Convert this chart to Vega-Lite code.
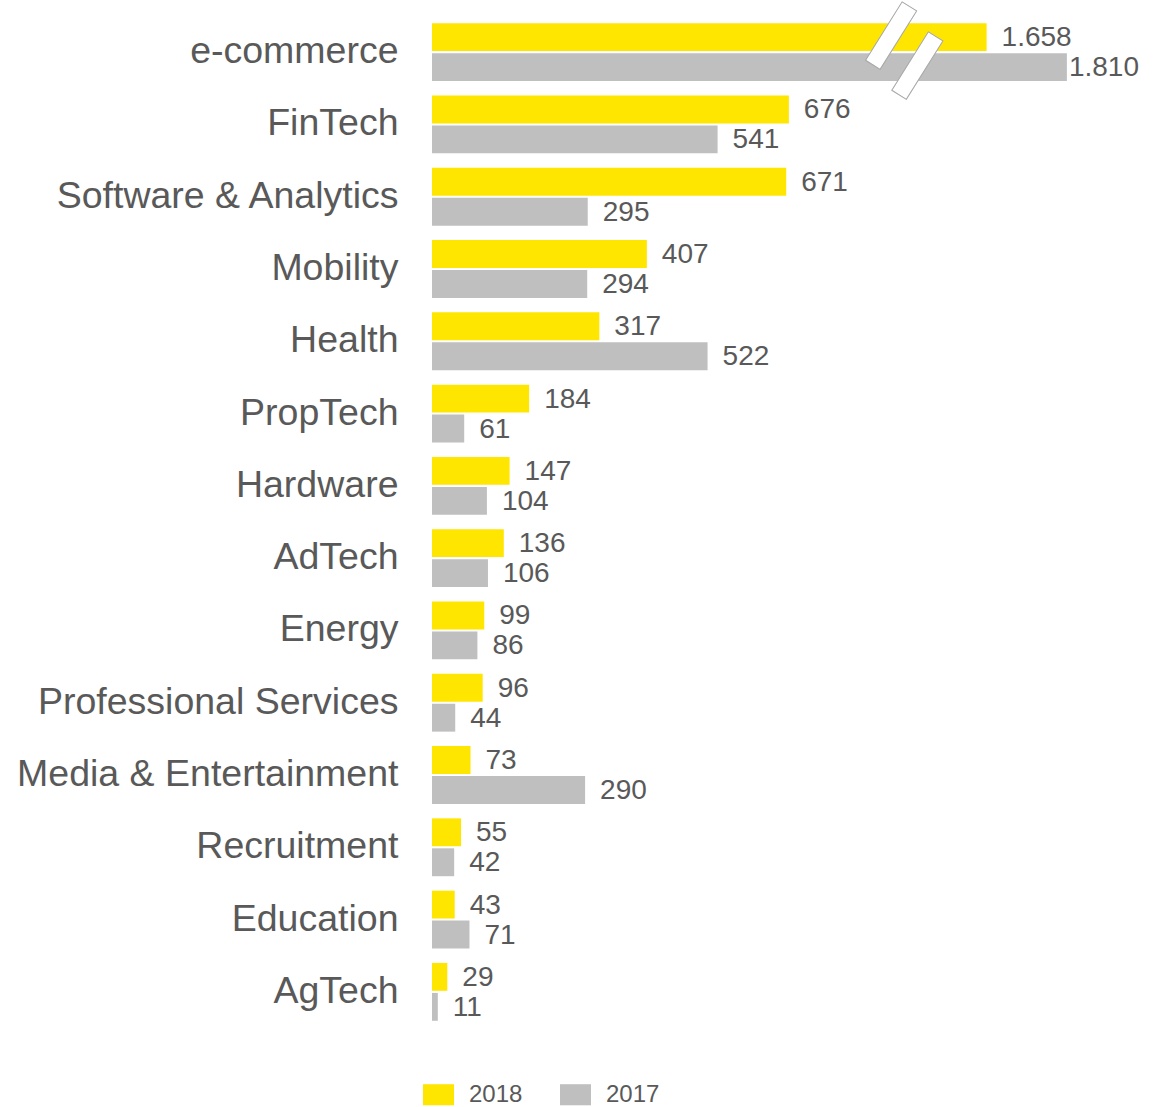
{
  "$schema": "https://vega.github.io/schema/vega-lite/v6.json",
  "width": 682,
  "height": 1012,
  "autosize": {"type": "none"},
  "padding": {"left": 432, "top": 16, "right": 46, "bottom": 79},
  "config": {"view": {"stroke": null}, "font": "Liberation Sans"},
  "datasets": {
    "bars": [
      {"category": "e-commerce", "year": "2018", "value": 1658, "label": "1.658"},
      {"category": "e-commerce", "year": "2017", "value": 1810, "label": "1.810"},
      {"category": "FinTech", "year": "2018", "value": 676, "label": "676"},
      {"category": "FinTech", "year": "2017", "value": 541, "label": "541"},
      {"category": "Software & Analytics", "year": "2018", "value": 671, "label": "671"},
      {"category": "Software & Analytics", "year": "2017", "value": 295, "label": "295"},
      {"category": "Mobility", "year": "2018", "value": 407, "label": "407"},
      {"category": "Mobility", "year": "2017", "value": 294, "label": "294"},
      {"category": "Health", "year": "2018", "value": 317, "label": "317"},
      {"category": "Health", "year": "2017", "value": 522, "label": "522"},
      {"category": "PropTech", "year": "2018", "value": 184, "label": "184"},
      {"category": "PropTech", "year": "2017", "value": 61, "label": "61"},
      {"category": "Hardware", "year": "2018", "value": 147, "label": "147"},
      {"category": "Hardware", "year": "2017", "value": 104, "label": "104"},
      {"category": "AdTech", "year": "2018", "value": 136, "label": "136"},
      {"category": "AdTech", "year": "2017", "value": 106, "label": "106"},
      {"category": "Energy", "year": "2018", "value": 99, "label": "99"},
      {"category": "Energy", "year": "2017", "value": 86, "label": "86"},
      {"category": "Professional Services", "year": "2018", "value": 96, "label": "96"},
      {"category": "Professional Services", "year": "2017", "value": 44, "label": "44"},
      {"category": "Media & Entertainment", "year": "2018", "value": 73, "label": "73"},
      {"category": "Media & Entertainment", "year": "2017", "value": 290, "label": "290"},
      {"category": "Recruitment", "year": "2018", "value": 55, "label": "55"},
      {"category": "Recruitment", "year": "2017", "value": 42, "label": "42"},
      {"category": "Education", "year": "2018", "value": 43, "label": "43"},
      {"category": "Education", "year": "2017", "value": 71, "label": "71"},
      {"category": "AgTech", "year": "2018", "value": 29, "label": "29"},
      {"category": "AgTech", "year": "2017", "value": 11, "label": "11"}
    ],
    "breaks": [
      {"category": "e-commerce", "year": "2018", "value": 850},
      {"category": "e-commerce", "year": "2017", "value": 1082}
    ]
  },
  "encoding": {
    "y": {
      "field": "category",
      "type": "nominal",
      "sort": null,
      "scale": {"paddingInner": 0.2, "paddingOuter": 0.1},
      "axis": {
        "title": null,
        "domain": false,
        "ticks": false,
        "grid": false,
        "labelFontSize": 37.5,
        "labelColor": "#595959",
        "labelPadding": 34,
        "labelLimit": 500,
        "labelFont": "Liberation Sans"
      }
    },
    "yOffset": {
      "field": "year",
      "type": "nominal",
      "sort": ["2018", "2017"],
      "scale": {"paddingInner": 0.07}
    }
  },
  "layer": [
    {
      "data": {"name": "bars"},
      "mark": {"type": "bar"},
      "encoding": {
        "x": {
          "field": "value",
          "type": "quantitative",
          "axis": null,
          "scale": {"domain": [0, 860, 1600, 1900], "range": [0, 454, 524, 682.4], "nice": false, "zero": false}
        },
        "color": {
          "field": "year",
          "type": "nominal",
          "scale": {"domain": ["2018", "2017"], "range": ["#FFE600", "#BFBFBF"]},
          "legend": {
            "title": null,
            "orient": "none",
            "direction": "horizontal",
            "legendX": -9,
            "legendY": 1063,
            "symbolType": "M-1,-0.68H1V0.68H-1Z",
            "symbolSize": 961,
            "symbolStrokeWidth": 0,
            "labelFontSize": 24,
            "labelColor": "#595959",
            "labelFont": "Liberation Sans",
            "labelOffset": 15,
            "columnPadding": 37,
            "padding": 0
          }
        }
      }
    },
    {
      "data": {"name": "bars"},
      "transform": [{"filter": "datum.category !== 'e-commerce' || datum.year !== '2017'"}],
      "mark": {"type": "text", "align": "left", "baseline": "middle", "dx": 15, "dy": 1, "fontSize": 28, "color": "#595959", "font": "Liberation Sans"},
      "encoding": {
        "x": {
          "field": "value",
          "type": "quantitative",
          "scale": {"domain": [0, 860, 1600, 1900], "range": [0, 454, 524, 682.4], "nice": false, "zero": false}
        },
        "text": {"field": "label", "type": "nominal"}
      }
    },
    {
      "data": {"name": "bars"},
      "transform": [{"filter": "datum.category === 'e-commerce' && datum.year === '2017'"}],
      "mark": {"type": "text", "align": "left", "baseline": "middle", "dx": 2, "dy": 1, "fontSize": 28, "color": "#595959", "font": "Liberation Sans"},
      "encoding": {
        "x": {
          "field": "value",
          "type": "quantitative",
          "scale": {"domain": [0, 860, 1600, 1900], "range": [0, 454, 524, 682.4], "nice": false, "zero": false}
        },
        "text": {"field": "label", "type": "nominal"}
      }
    },
    {
      "data": {"name": "breaks"},
      "mark": {"type": "text", "text": "▍", "align": "left", "baseline": "middle", "dy": -4, "fontSize": 58, "font": "DejaVu Sans", "angle": 32, "fill": "white", "stroke": "#A6A6A6", "strokeWidth": 1},
      "encoding": {
        "x": {
          "field": "value",
          "type": "quantitative",
          "scale": {"domain": [0, 860, 1600, 1900], "range": [0, 454, 524, 682.4], "nice": false, "zero": false}
        }
      }
    }
  ]
}
